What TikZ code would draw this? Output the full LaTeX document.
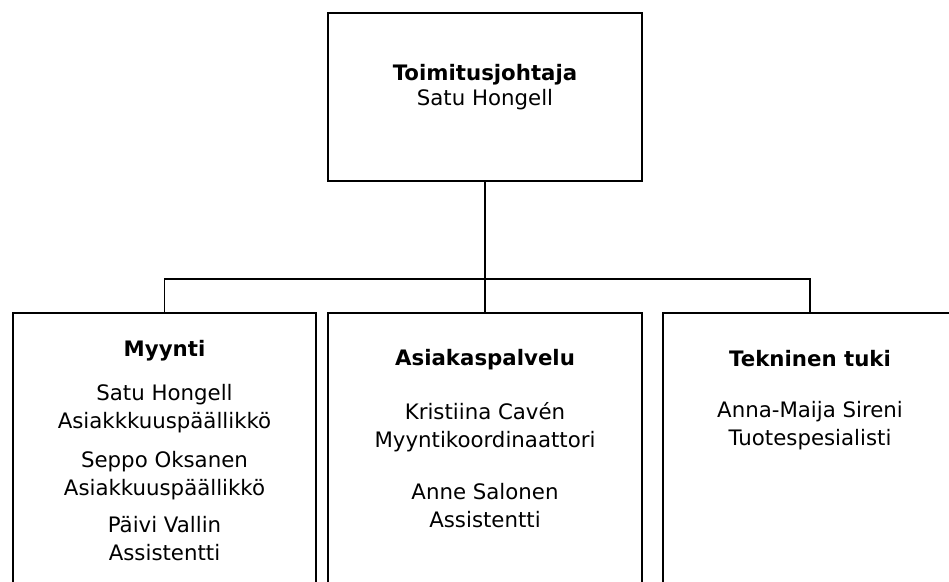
\documentclass[tikz,border=0pt]{standalone}
\usepackage{fontspec}
\setmainfont{DejaVu Sans}
\usetikzlibrary{positioning}

\tikzset{
  unit/.style={draw,rectangle,line width=1.4pt,inner sep=0pt},
  head/.style={anchor=base,font=\bfseries\fontsize{21.3}{25}\selectfont},
  person/.style={anchor=base,align=center,font=\fontsize{21.3}{28}\selectfont}
}

\begin{document}
\begin{tikzpicture}[x=1pt,y=-1pt]
  \useasboundingbox (0,0) rectangle (949,581);
  \clip (0,0) rectangle (949,581);
  % boxes
  \node[unit,minimum width=314pt,minimum height=168pt] (ceo) at (485,97) {};
  \node[unit,minimum width=303pt,minimum height=327pt] (myynti) at (164.5,476.5) {};
  \node[unit,minimum width=314pt,minimum height=327pt] (asiakas) at (485,476.5) {};
  \node[unit,minimum width=294pt,minimum height=327pt] (tekninen) at (810,476.5) {};
  % texts (base = last line)
  \node[head] (ceo_t) at (485,80) {Toimitusjohtaja};
  \node[person] (ceo_n) at (485,105) {Satu Hongell};
  \node[head] (myynti_t) at (164.5,356) {Myynti};
  \node[person] (myynti_1) at (164.5,428) {Satu Hongell\\Asiakkkuuspäällikkö};
  \node[person] (myynti_2) at (164.5,495) {Seppo Oksanen\\Asiakkuuspäällikkö};
  \node[person] (myynti_3) at (164.5,560) {Päivi Vallin\\Assistentti};
  \node[head] (asiakas_t) at (485,365) {Asiakaspalvelu};
  \node[person] (asiakas_1) at (485,447) {Kristiina Cavén\\Myyntikoordinaattori};
  \node[person] (asiakas_2) at (485,527) {Anne Salonen\\Assistentti};
  \node[head] (tekninen_t) at (810,366) {Tekninen tuki};
  \node[person] (tekninen_1) at (810,445) {Anna-Maija Sireni\\Tuotespesialisti};
  % lines
  \coordinate (bus) at (485,279);
  \draw[line width=1.4pt] (ceo.south) -- (asiakas.north);
  \draw[line width=1.4pt] (myynti.north) |- (bus) -| (tekninen.north);
\end{tikzpicture}
\end{document}
